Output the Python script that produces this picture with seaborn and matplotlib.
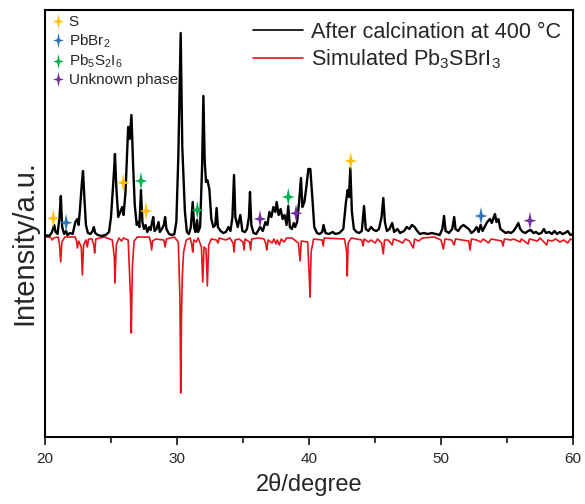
import numpy as np
import pandas as pd
import matplotlib
matplotlib.use("Agg")
import matplotlib.pyplot as plt
import seaborn as sns
from matplotlib.path import Path
from matplotlib.lines import Line2D

# measured pattern after calcination (2theta, intensity above baseline)
obs_2theta = [20.0, 20.3, 20.5, 20.6, 20.7, 20.8, 20.95, 21.1, 21.2, 21.3, 21.45, 21.6, 21.7, 21.9,
              22.1, 22.3, 22.45, 22.55, 22.65, 22.8, 22.88, 22.98, 23.1, 23.25, 23.45, 23.6, 23.7,
              23.8, 24.0, 24.3, 24.6, 24.85, 25.0, 25.2, 25.3, 25.4, 25.55, 25.7, 25.85, 25.95,
              26.1, 26.3, 26.4, 26.55, 26.68, 26.8, 26.95, 27.05, 27.15, 27.27, 27.38, 27.5, 27.62,
              27.75, 27.9, 28.0, 28.1, 28.2, 28.3, 28.45, 28.6, 28.7, 28.85, 29.0, 29.1, 29.2,
              29.4, 29.6, 29.8, 29.95, 30.1, 30.28, 30.4, 30.48, 30.6, 30.75, 30.9, 31.05, 31.19,
              31.3, 31.4, 31.52, 31.6, 31.75, 31.9, 32.0, 32.1, 32.2, 32.3, 32.45, 32.6, 32.75,
              32.9, 33.0, 33.1, 33.3, 33.5, 33.7, 33.9, 34.05, 34.2, 34.32, 34.42, 34.6, 34.8,
              34.95, 35.15, 35.3, 35.45, 35.53, 35.63, 35.8, 36.0, 36.3, 36.5, 36.7, 36.85, 37.0,
              37.15, 37.3, 37.45, 37.55, 37.7, 37.85, 38.0, 38.15, 38.3, 38.43, 38.55, 38.7,
              38.85, 38.95, 39.1, 39.25, 39.39, 39.5, 39.65, 39.8, 39.95, 40.1, 40.25, 40.4,
              40.6, 40.8, 41.0, 41.1, 41.25, 41.5, 41.8, 42.0, 42.3, 42.6, 42.8, 42.93, 43.03,
              43.13, 43.25, 43.4, 43.6, 43.8, 44.0, 44.17, 44.3, 44.5, 44.7, 44.9, 45.1, 45.3,
              45.5, 45.63, 45.75, 45.9, 46.1, 46.3, 46.45, 46.7, 46.9, 47.2, 47.4, 47.6, 47.8,
              48.0, 48.2, 48.4, 48.7, 49.0, 49.3, 49.6, 49.9, 50.1, 50.23, 50.35, 50.6, 50.85,
              51.0, 51.1, 51.3, 51.5, 51.7, 51.9, 52.1, 52.3, 52.5, 52.7, 52.85, 53.0, 53.15,
              53.3, 53.5, 53.7, 53.85, 54.0, 54.09, 54.2, 54.35, 54.5, 54.7, 54.9, 55.1, 55.3,
              55.5, 55.7, 55.86, 56.0, 56.2, 56.4, 56.6, 56.8, 57.0, 57.2, 57.4, 57.6, 57.8,
              57.95, 58.2, 58.4, 58.6, 58.8, 59.0, 59.2, 59.4, 59.6, 59.8, 60.0]
obs_counts = [2, 1, 4, 8, 12, 5, 3, 20, 41, 10, 3, 6, 2, 4,
              3, 15, 18, 12, 28, 55, 66, 40, 12, 4, 3, 6, 10,
              4, 2, 1, 2, 5, 20, 60, 83, 50, 20, 25, 30, 22,
              45, 110, 98, 122, 70, 32, 12, 15, 10, 47, 15, 8, 12,
              5, 10, 7, 14, 20, 6, 8, 15, 5, 8, 12, 20, 8,
              3, 2, 3, 15, 80, 204, 90, 64, 25, 5, 3, 10, 35,
              10, 5, 17, 5, 10, 70, 141, 75, 55, 57, 48, 18, 10,
              12, 29, 10, 6, 4, 5, 10, 6, 20, 62, 20, 10, 22,
              6, 5, 8, 20, 45, 12, 4, 3, 10, 6, 15, 12, 25,
              20, 30, 25, 35, 22, 28, 18, 22, 12, 31, 10, 8,
              14, 10, 15, 35, 59, 30, 35, 50, 68, 68, 40, 10,
              4, 3, 5, 12, 4, 3, 5, 3, 4, 8, 35, 47, 40,
              69, 25, 8, 5, 4, 6, 31, 8, 6, 10, 7, 6, 8,
              20, 39, 15, 6, 8, 14, 5, 8, 4, 6, 10, 8, 12,
              10, 6, 3, 4, 3, 4, 3, 2, 8, 21, 6, 4, 8,
              20, 8, 6, 10, 12, 10, 8, 4, 6, 10, 5, 12, 6,
              10, 15, 18, 14, 20, 23, 15, 18, 8, 6, 4, 5, 4,
              6, 10, 14, 8, 5, 4, 6, 7, 4, 5, 3, 4, 8,
              4, 5, 3, 6, 3, 5, 3, 4, 6, 2, 3]

# simulated Pb3SBrI3 pattern, drawn downward
sim_2theta = [20.0, 20.4, 20.55, 20.65, 21.0, 21.1, 21.19, 21.28, 21.5, 22.3, 22.4, 22.45, 22.55,
              22.75, 22.83, 22.92, 23.1, 23.2, 23.3, 23.55, 23.7, 23.76, 23.85, 24.5, 25.1, 25.25,
              25.3, 25.4, 25.6, 25.8, 25.95, 26.3, 26.42, 26.47, 26.54, 26.62, 26.75, 27.0, 27.5,
              27.9, 28.0, 28.08, 28.15, 28.4, 29.0, 29.1, 29.2, 29.8, 30.1, 30.22, 30.28, 30.34,
              30.4, 30.5, 30.7, 31.0, 31.12, 31.19, 31.27, 31.45, 31.6, 31.85, 31.95, 32.05, 32.2,
              32.3, 32.4, 32.6, 33.0, 33.1, 33.2, 33.7, 34.0, 34.25, 34.32, 34.4, 34.7, 35.0,
              35.08, 35.15, 35.5, 35.58, 35.65, 36.2, 36.6, 36.75, 36.8, 36.9, 37.2, 37.35, 37.5,
              37.6, 37.75, 37.9, 38.1, 38.3, 38.7, 39.2, 39.32, 39.42, 39.9, 40.02, 40.08, 40.16,
              40.35, 41.0, 41.08, 41.15, 42.7, 42.85, 42.9, 42.97, 43.2, 44.0, 44.1, 44.18, 44.5,
              44.7, 45.0, 45.2, 45.5, 45.63, 45.72, 46.0, 46.3, 46.4, 46.8, 47.1, 47.3, 47.6,
              47.9, 48.0, 48.3, 48.6, 49.5, 50.0, 50.18, 50.3, 50.8, 51.0, 51.1, 52.1, 52.2,
              52.3, 52.7, 53.0, 53.2, 53.6, 53.8, 54.6, 54.7, 54.8, 55.3, 55.5, 56.0, 56.1,
              56.6, 56.7, 57.3, 57.5, 57.8, 58.0, 58.1, 58.4, 58.7, 59.0, 59.3, 59.6, 59.8, 60.0]
sim_counts = [0, 0, -3, -1, 0, -8, -25, -5, 0, 0, -5, -11, -4,
              -10, -38, -8, -3, -10, -2, -2, -8, -16, -2, 0, -3, -20,
              -46, -8, -1, -4, -1, -3, -40, -57, -96, -30, -4, 0, 0,
              0, -5, -13, -4, -2, -3, -10, -2, 0, -5, -60, -156, -80,
              -40, -15, -3, -1, -8, -15, -3, -5, -1, -10, -45, -10, -12,
              -49, -8, -2, -3, -6, -1, -3, -1, -6, -15, -3, -2, -5,
              -13, -2, -5, -13, -2, -1, -2, -8, -13, -3, -6, -2, -7,
              -3, -8, -2, -5, -1, -1, -6, -24, -4, -5, -40, -60, -15,
              -2, -3, -9, -1, -2, -15, -39, -6, -1, -3, -9, -2, -5,
              -3, -6, -2, -6, -17, -3, -3, -8, -2, -4, -6, -2, -4,
              -11, -2, -4, -1, 0, -3, -12, -2, -3, -8, -2, -4, -13,
              -2, -3, -5, -2, -6, -2, -4, -9, -2, -3, -2, -5, -2,
              -7, -2, -4, -1, -5, -8, -3, -4, -2, -5, -3, -6, -2, -3]

# phase markers
phases = ["S", "PbBr$_2$", "Pb$_5$S$_2$I$_6$", "Unknown phase"]
phase_colors = ["#FFC000", "#2E75B6", "#00B050", "#7030A0"]
s_pos = [20.63, 25.93, 27.65, 43.16]
s_int = [18.7, 54.3, 26, 76]
pbbr2_pos = [21.6, 53.03]
pbbr2_int = [14.3, 21]
pb5_pos = [27.27, 31.54, 38.43]
pb5_int = [56, 27, 40]
unk_pos = [36.29, 39.02, 56.74]
unk_int = [18, 23.7, 16.3]

sns.set_style("ticks")
plt.rcParams['font.family'] = ['Liberation Sans', 'DejaVu Sans']
plt.rcParams['mathtext.fontset'] = 'custom'
plt.rcParams['mathtext.rm'] = 'Liberation Sans'
plt.rcParams['mathtext.it'] = 'Liberation Sans'
plt.rcParams['mathtext.default'] = 'regular'

star = Path([(0, 1), (0.17, 0.17), (0.7, 0), (0.17, -0.17), (0, -1),
             (-0.17, -0.17), (-0.7, 0), (-0.17, 0.17), (0, 1)],
            [Path.MOVETO] + [Path.LINETO] * 7 + [Path.CLOSEPOLY])

fig = plt.figure(figsize=(5.85, 5.04), dpi=100)
ax = fig.add_axes([45 / 585, 67 / 504, 528 / 585, 427 / 504])

obs = pd.DataFrame({"x": obs_2theta, "y": obs_counts})
sim = pd.DataFrame({"x": sim_2theta, "y": sim_counts})
sns.lineplot(data=sim, x="x", y="y", ax=ax, color="#E8141B", lw=1.2, sort=False, estimator=None)
sns.lineplot(data=obs, x="x", y="y", ax=ax, color="black", lw=1.7, sort=False, estimator=None)

mk_sets = [(s_pos, s_int), (pbbr2_pos, pbbr2_int), (pb5_pos, pb5_int), (unk_pos, unk_int)]
for (px, py), col in zip(mk_sets, phase_colors):
    ax.scatter(px, py, marker=star, s=170, color=col, edgecolor="none", zorder=5)

ax.set_xlim(20, 60)
ax.set_ylim(-200, 227)
ax.set_xticks([20, 30, 40, 50, 60])
ax.set_xticks([25, 35, 45, 55], minor=True)
ax.set_yticks([])
ax.tick_params(axis="x", which="major", direction="out", length=6, width=1.3, labelsize=11,
               top=False, pad=5)
ax.tick_params(axis="x", which="minor", direction="out", length=4, width=1.3, top=False)
for sp in ax.spines.values():
    sp.set_linewidth(1.5)
    sp.set_color("black")
ax.set_xlabel("2θ/degree", fontsize=17, labelpad=5)
ax.set_ylabel("Intensity/a.u.", fontsize=21)
ax.yaxis.set_label_coords(-0.012, 0.455)

h1 = [Line2D([], [], ls="none", marker=star, markersize=11, color=c, markeredgecolor="none")
      for c in phase_colors]
leg1 = ax.legend(h1, phases, loc="upper left", frameon=False, fontsize=11,
                 handletextpad=0.2, labelspacing=0.2, borderaxespad=0.1, borderpad=0.25,
                 handlelength=1.0)
ax.add_artist(leg1)
h2 = [Line2D([], [], color="black", lw=1.2), Line2D([], [], color="#E8141B", lw=1.2)]
ax.legend(h2, ["After calcination at 400 °C", "Simulated Pb$_3$SBrI$_3$"], loc="upper right",
          frameon=False, fontsize=15.6, handlelength=2.3, handletextpad=0.36, labelspacing=0.22,
          borderaxespad=0.3, borderpad=0.25)

fig.savefig("out.png", dpi=100)
